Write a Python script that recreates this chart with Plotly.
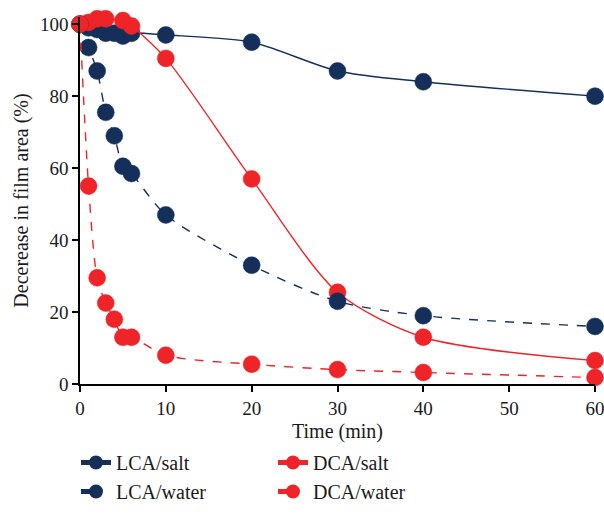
import plotly.graph_objects as go

time_lca = [0, 1, 2, 3, 4, 5, 6, 10, 20, 30, 40, 60]
lca_salt = [100, 99, 98.5, 97.5, 97.5, 96.7, 97.5, 97, 95, 87, 84, 80]
lca_water = [100, 93.5, 87, 75.5, 69, 60.5, 58.5, 47, 33, 23, 19, 16]

time_dca_salt = [0, 1, 2, 3, 5, 6, 10, 20, 30, 40, 60]
dca_salt = [100, 100.5, 101.5, 101.5, 101, 99.5, 90.5, 57, 25.5, 13, 6.5]
time_dca_water = [0, 1, 2, 3, 4, 5, 6, 10, 20, 30, 40, 60]
dca_water = [100, 55, 29.5, 22.5, 18, 13, 13, 8, 5.5, 4, 3.2, 1.8]

x_ticks = [0, 10, 20, 30, 40, 50, 60]
y_ticks = [0, 20, 40, 60, 80, 100]

NAVY = "#142f59"
RED = "#ee2428"
FONT = "Liberation Serif"

fig = go.Figure()

def add(x, y, name, color, dash):
    fig.add_trace(go.Scatter(
        x=x, y=y, name=name, mode="lines+markers",
        line=dict(color=color, width=1.4, dash=dash, shape="spline", smoothing=0.8),
        marker=dict(color=color, size=17, line=dict(color=color, width=0.5)),
        cliponaxis=False,
    ))

add(time_lca, lca_salt, "LCA/salt", NAVY, "solid")
add(time_dca_salt, dca_salt, "DCA/salt", RED, "solid")
add(time_lca, lca_water, "LCA/water", NAVY, "dash")
add(time_dca_water, dca_water, "DCA/water", RED, "dash")

fig.update_layout(
    width=604, height=516,
    margin=dict(l=80, r=9, t=17, b=132, autoexpand=False),
    paper_bgcolor="white", plot_bgcolor="white",
    font=dict(family=FONT, size=19, color="#1a1a1a"),
    showlegend=True,
    legend=dict(
        orientation="h", x=76 / 604, y=1 - 443 / 516, xref="container", yref="container",
        xanchor="left", yanchor="top",
        entrywidth=152, entrywidthmode="pixels",
        font=dict(family=FONT, size=20, color="#1a1a1a"),
        tracegroupgap=0, itemsizing="constant",
    ),
)
fig.update_xaxes(
    range=[0, 60], tickvals=x_ticks, showgrid=False, zeroline=False, automargin=False,
    showline=True, linecolor="black", linewidth=1.5, ticklabeloverflow="allow",
    ticks="outside", ticklen=6, tickwidth=1.5, tickcolor="black",
    title=dict(text="Time (min)", font=dict(family=FONT, size=20), standoff=10),
    tickfont=dict(family=FONT, size=19),
)
fig.update_yaxes(
    range=[0, 102], tickvals=y_ticks, showgrid=False, zeroline=False, automargin=False,
    showline=True, linecolor="black", linewidth=1.5, ticklabeloverflow="allow",
    ticks="outside", ticklen=6, tickwidth=1.5, tickcolor="black",
    title=dict(text="Decerease in film area (%)", font=dict(family=FONT, size=20), standoff=6),
    tickfont=dict(family=FONT, size=19),
)

fig.write_html("out.html")
